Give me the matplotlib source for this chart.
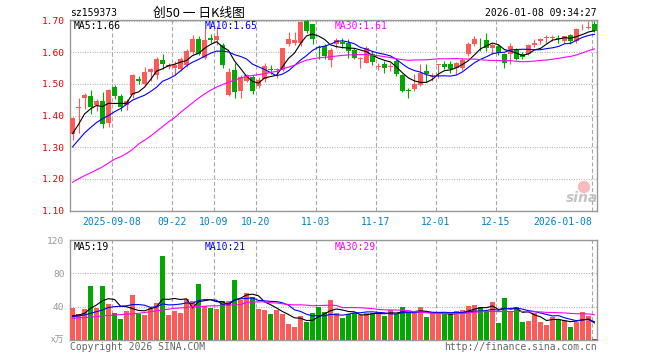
import matplotlib
matplotlib.use('Agg')
import matplotlib.pyplot as plt
import numpy as np
import pandas as pd

# ---------------------------data---------------------------
opens = [1.343, 1.424, 1.456, 1.463, 1.432, 1.445, 1.377, 1.491, 1.462, 1.432,
         1.466, 1.514, 1.499, 1.538, 1.528, 1.577, 1.553, 1.549, 1.546, 1.561,
         1.600, 1.643, 1.582, 1.645, 1.640, 1.624, 1.466, 1.543, 1.478, 1.510,
         1.522, 1.492, 1.515, 1.548, 1.544, 1.543, 1.626, 1.630, 1.628, 1.698,
         1.688, 1.617, 1.619, 1.577, 1.625, 1.632, 1.629, 1.606, 1.579, 1.567,
         1.595, 1.555, 1.564, 1.554, 1.574, 1.527, 1.482, 1.483, 1.497, 1.541,
         1.523, 1.560, 1.564, 1.563, 1.551, 1.551, 1.593, 1.626, 1.643, 1.640,
         1.612, 1.619, 1.595, 1.593, 1.610, 1.593, 1.593, 1.624, 1.635, 1.645,
         1.646, 1.646, 1.635, 1.655, 1.635, 1.679, 1.678, 1.689]
highs = [1.396, 1.455, 1.470, 1.482, 1.452, 1.473, 1.485, 1.496, 1.468, 1.452,
         1.530, 1.525, 1.554, 1.551, 1.584, 1.593, 1.566, 1.572, 1.584, 1.610,
         1.655, 1.650, 1.676, 1.657, 1.683, 1.630, 1.551, 1.565, 1.528, 1.532,
         1.527, 1.522, 1.566, 1.560, 1.551, 1.614, 1.663, 1.663, 1.700, 1.705,
         1.690, 1.622, 1.625, 1.612, 1.645, 1.645, 1.643, 1.613, 1.585, 1.620,
         1.603, 1.567, 1.572, 1.567, 1.580, 1.530, 1.486, 1.530, 1.564, 1.564,
         1.535, 1.564, 1.572, 1.574, 1.570, 1.582, 1.634, 1.653, 1.645, 1.660,
         1.630, 1.625, 1.598, 1.629, 1.615, 1.600, 1.627, 1.643, 1.645, 1.655,
         1.656, 1.655, 1.652, 1.657, 1.676, 1.689, 1.700, 1.700]
lows = [1.324, 1.344, 1.420, 1.405, 1.415, 1.360, 1.364, 1.452, 1.414, 1.418,
        1.457, 1.499, 1.494, 1.510, 1.515, 1.546, 1.548, 1.527, 1.540, 1.555,
        1.595, 1.590, 1.578, 1.629, 1.624, 1.551, 1.462, 1.457, 1.457, 1.505,
        1.468, 1.486, 1.505, 1.530, 1.518, 1.541, 1.620, 1.622, 1.620, 1.660,
        1.625, 1.580, 1.578, 1.553, 1.615, 1.614, 1.582, 1.578, 1.551, 1.565,
        1.560, 1.545, 1.535, 1.540, 1.525, 1.473, 1.455, 1.478, 1.495, 1.505,
        1.510, 1.520, 1.546, 1.535, 1.530, 1.545, 1.588, 1.620, 1.605, 1.603,
        1.595, 1.590, 1.551, 1.564, 1.576, 1.580, 1.590, 1.618, 1.625, 1.630,
        1.635, 1.628, 1.628, 1.626, 1.630, 1.669, 1.672, 1.665]
closes = [1.393, 1.428, 1.466, 1.428, 1.445, 1.374, 1.482, 1.463, 1.428, 1.445,
          1.527, 1.510, 1.539, 1.546, 1.580, 1.564, 1.560, 1.561, 1.579, 1.605,
          1.643, 1.595, 1.640, 1.640, 1.650, 1.561, 1.537, 1.475, 1.522, 1.527,
          1.478, 1.511, 1.556, 1.544, 1.548, 1.612, 1.643, 1.640, 1.695, 1.668,
          1.642, 1.612, 1.587, 1.608, 1.640, 1.627, 1.605, 1.582, 1.582, 1.614,
          1.570, 1.558, 1.549, 1.557, 1.532, 1.478, 1.479, 1.501, 1.535, 1.532,
          1.526, 1.564, 1.553, 1.547, 1.567, 1.577, 1.626, 1.643, 1.641, 1.614,
          1.622, 1.598, 1.567, 1.619, 1.580, 1.585, 1.624, 1.629, 1.643, 1.648,
          1.648, 1.641, 1.650, 1.635, 1.674, 1.681, 1.681, 1.668]
volumes = [39, 31, 37, 65, 38, 65, 43, 32, 25, 35,
           54, 31, 30, 38, 45, 101, 30, 35, 32, 49,
           47, 67, 41, 38, 37, 47, 47, 72, 48, 56,
           52, 37, 36, 31, 36, 31, 19, 16, 29, 22,
           32, 40, 34, 48, 32, 26, 31, 32, 30, 32,
           33, 33, 29, 36, 31, 40, 32, 32, 40, 28,
           32, 31, 31, 31, 35, 36, 41, 42, 40, 35,
           46, 20, 50, 34, 40, 22, 23, 32, 22, 18,
           28, 24, 24, 16, 22, 34, 29, 1]

# moving-average values at the left edge (history before the window)
ma5_head = [1.343, 1.372, 1.405, 1.421]
ma10_head = [1.301, 1.323, 1.345, 1.362, 1.378, 1.390, 1.400, 1.412, 1.422]
ma30_head = [1.189, 1.200, 1.210, 1.219, 1.228, 1.238, 1.250, 1.262, 1.270, 1.280,
             1.293, 1.310, 1.322, 1.335, 1.350, 1.365, 1.380, 1.393, 1.410, 1.425,
             1.440, 1.455, 1.468, 1.480, 1.490, 1.498, 1.505, 1.512, 1.518]
vma5_head = [29, 30, 32, 38]
vma10_head = [28, 29, 30, 32, 34, 36, 39, 40, 40.5]
vma30_head = [26, 26.5, 27, 27.5, 28, 29, 29.5, 30, 30.5, 31, 31.5, 32, 33, 34, 35,
              36, 37, 38, 38.5, 39, 40, 40, 40.5, 41, 41, 41.5, 42, 42, 42.5]

tick_idx = [7, 17, 24, 31, 41, 51, 61, 71, 87]
tick_labels = ['2025-09-08', '09-22', '10-09', '10-20', '11-03',
               '11-17', '12-01', '12-15', '2026-01-08']
price_ticks = [1.10, 1.20, 1.30, 1.40, 1.50, 1.60, 1.70]
vol_ticks = [40, 80, 120]

# ---------------------------styling---------------------------
RED = '#ff5a5a'
GREEN = '#00a800'
GRID = '#a8a8a8'
MONO = 'DejaVu Sans Mono'
CJK = ['Noto Sans CJK SC', 'DejaVu Sans']
W, H = 660, 360


def frac(x0, y0, x1, y1):
    return [x0 / W, 1 - y1 / H, (x1 - x0) / W, (y1 - y0) / H]


def moving(values, n, head):
    s = pd.Series(values, dtype=float).rolling(n).mean()
    s.iloc[:len(head)] = head
    return s.values


x = np.arange(len(closes))
up = np.array(closes) >= np.array(opens)
colors = [RED if u else GREEN for u in up]

fig = plt.figure(figsize=(W / 100, H / 100), dpi=100)
ax = fig.add_axes(frac(70, 20, 597, 210.5))
axv = fig.add_axes(frac(70, 240, 597, 340))

xl = (-0.42, len(closes) - 0.58)
tick_pos = [i - 0.42 for i in tick_idx]

# price candles
bottoms = np.minimum(opens, closes)
heights = np.maximum(np.abs(np.array(closes) - np.array(opens)), 0.002)
ax.vlines(x, lows, highs, colors=colors, linewidth=0.8, zorder=3)
ax.bar(x, heights, bottom=bottoms, width=0.83, color=colors, linewidth=0, zorder=3)

ax.plot(x, moving(closes, 5, ma5_head), color='black', lw=0.8, zorder=4)
ax.plot(x, moving(closes, 10, ma10_head), color='#0000ff', lw=0.8, zorder=4)
ax.plot(x, moving(closes, 30, ma30_head), color='#ff00ff', lw=0.8, zorder=4)

ax.set_xlim(*xl)
ax.set_ylim(1.10, 1.702)
ax.set_yticks(price_ticks)
ax.set_yticklabels(['%.2f' % t for t in price_ticks], color='#e00000',
                   fontfamily=MONO, fontsize=6.8)
ax.set_xticks(tick_pos)
ax.set_xticklabels(tick_labels, color='#0080d0', fontfamily=MONO, fontsize=7)
ax.get_xticklabels()[-1].set_horizontalalignment('right')
ax.tick_params(length=0, pad=4)
ax.tick_params(axis='x', pad=5)
ax.grid(axis='y', color=GRID, linestyle=(0, (0.8, 1.4)), linewidth=0.8)
ax.grid(axis='x', color=GRID, linestyle=(0, (3.6, 2.2)), linewidth=0.8)
ax.set_axisbelow(True)

# volume bars
axv.bar(x, volumes, width=0.83, color=colors, linewidth=0, zorder=3)
axv.plot(x, moving(volumes, 5, vma5_head), color='black', lw=0.8, zorder=4)
axv.plot(x, moving(volumes, 10, vma10_head), color='#0000ff', lw=0.8, zorder=4)
axv.plot(x, moving(volumes, 30, vma30_head), color='#ff00ff', lw=0.8, zorder=4)
axv.set_xlim(*xl)
axv.set_ylim(0, 120)
axv.set_yticks(vol_ticks)
axv.set_yticklabels([str(t) for t in vol_ticks], color='#999999',
                    fontfamily=MONO, fontsize=6.8)
axv.set_xticks(tick_pos)
axv.set_xticklabels([])
axv.tick_params(length=0, pad=4)
axv.grid(axis='y', color=GRID, linestyle=(0, (0.8, 1.4)), linewidth=0.8)
axv.grid(axis='x', color=GRID, linestyle=(0, (3.6, 2.2)), linewidth=0.8)
axv.set_axisbelow(True)

for a in (ax, axv):
    for sp in a.spines.values():
        sp.set_color('#999999')
        sp.set_linewidth(1.0)

# header and labels
fig.text(70 / W, 1 - 13 / H, 'sz159373', fontfamily=MONO, fontsize=7, va='center')
fig.text(199 / W, 1 - 13 / H, '创50 一 日K线图', family=CJK, fontsize=9.2,
         ha='center', va='center')
fig.text(597 / W, 1 - 13 / H, '2026-01-08 09:34:27', fontfamily=MONO, fontsize=7,
         ha='right', va='center')

fig.text(74 / W, 1 - 26 / H, 'MA5:1.66', fontfamily=MONO, fontsize=7, va='center')
fig.text(205 / W, 1 - 26 / H, 'MA10:1.65', fontfamily=MONO, fontsize=7,
         va='center', color='#0000ff')
fig.text(335 / W, 1 - 26 / H, 'MA30:1.61', fontfamily=MONO, fontsize=7,
         va='center', color='#ff00ff')

fig.text(74 / W, 1 - 247 / H, 'MA5:19', fontfamily=MONO, fontsize=7, va='center')
fig.text(205 / W, 1 - 247 / H, 'MA10:21', fontfamily=MONO, fontsize=7,
         va='center', color='#0000ff')
fig.text(335 / W, 1 - 247 / H, 'MA30:29', fontfamily=MONO, fontsize=7,
         va='center', color='#ff00ff')

fig.text(64 / W, 1 - 340 / H, 'x万', family=CJK, fontsize=6.5, color='#999999',
         ha='right', va='center')
fig.text(70 / W, 1 - 347 / H, 'Copyright 2026 SINA.COM', fontfamily=MONO,
         fontsize=7, color='#666666', va='center')
fig.text(597 / W, 1 - 347 / H, 'http://finance.sina.com.cn', fontfamily=MONO,
         fontsize=7, color='#666666', ha='right', va='center')

# sina watermark
fig.text(582 / W, 1 - 198 / H, 'sina', fontsize=10, fontweight='bold',
         fontstyle='italic', color='#c4c4c4', ha='center', va='center')
fig.patches.append(plt.Circle((584 / 100, (H - 187) / 100), 0.055,
                              transform=fig.dpi_scale_trans, color='#f6bcbc',
                              figure=fig))

fig.savefig('out.png', dpi=100)
